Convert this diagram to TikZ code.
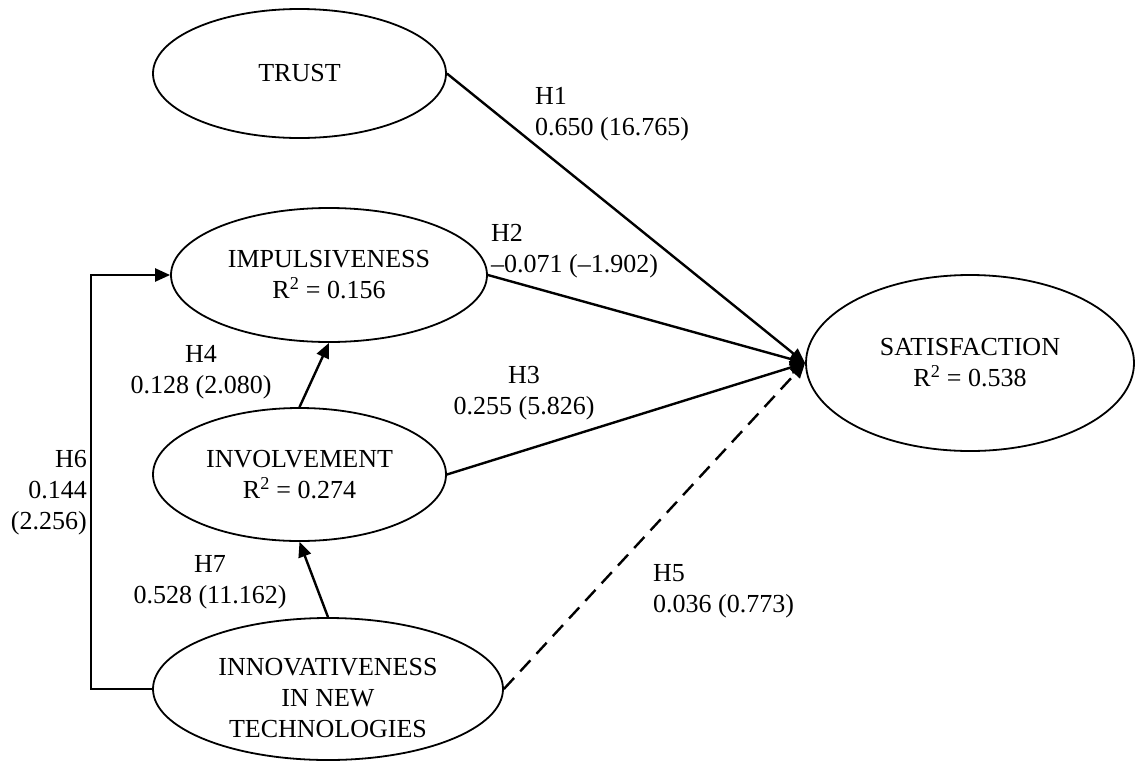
\documentclass[tikz,border=0pt]{standalone}
\usepackage{fontspec}
\setmainfont{Liberation Serif}
\usetikzlibrary{arrows.meta,shapes.geometric}
\begin{document}
\begin{tikzpicture}[x=1pt,y=-1pt,
  every node/.style={font=\fontsize{26}{31}\selectfont},
  construct/.style={ellipse,draw,line width=1.8pt,inner sep=0pt,align=center},
  link/.style={line width=2.4pt,-{Triangle[length=15pt,width=13pt]}},
  weak/.style={link,dash pattern=on 15pt off 9pt},
  coef/.style={inner sep=0pt}]

% canvas
\fill[white] (0,0) rectangle (1135,761);
\useasboundingbox (0,0) rectangle (1135,761);

% latent constructs
\node[construct,minimum width=293pt,minimum height=129pt] (trust) at (299.5,73.5) {TRUST};
\node[construct,minimum width=316pt,minimum height=134pt] (imp) at (329,275)
  {IMPULSIVENESS\\R\textsuperscript{2} = 0.156};
\node[construct,minimum width=293pt,minimum height=133pt] (inv) at (299.5,474.5)
  {INVOLVEMENT\\R\textsuperscript{2} = 0.274};
\node[construct,minimum width=350pt,minimum height=142pt,
  label={[name=inntext,align=center,yshift=-9.5pt]center:{INNOVATIVENESS\\IN NEW\\TECHNOLOGIES}}]
  (inn) at (328,689) {};
\node[construct,minimum width=328pt,minimum height=176pt] (sat) at (970,363)
  {SATISFACTION\\R\textsuperscript{2} = 0.538};

% structural paths
\draw[link] (trust.east) -- (sat.west);
\draw[link] (imp.east) -- (sat.west);
\draw[link] (inv.east) -- (sat.west);
\draw[weak] (inn.east) -- (sat.west);
\draw[link] (inv.north) -- (imp.south);
\draw[link] (inn.north) -- (inv.south);
\coordinate (h6bend) at (91,0);
\draw[link] (inn.west) -- (inn.west -| h6bend) |- (imp.west);

% path coefficients (t-values)
\node[coef,anchor=north west,align=left] (h1) at (535,87) {H1\\0.650 (16.765)};
\node[coef,anchor=north west,align=left] (h2) at (491,224) {H2\\--0.071 (--1.902)};
\node[coef,anchor=north,align=center] (h3) at (524,366) {H3\\0.255 (5.826)};
\node[coef,anchor=north,align=center] (h4) at (201,345) {H4\\0.128 (2.080)};
\node[coef,anchor=north west,align=left] (h5) at (653,564) {H5\\0.036 (0.773)};
\node[coef,anchor=north east,align=right] (h6) at (87,450) {H6\\0.144\\(2.256)};
\node[coef,anchor=north,align=center] (h7) at (210,555) {H7\\0.528 (11.162)};
\end{tikzpicture}
\end{document}
